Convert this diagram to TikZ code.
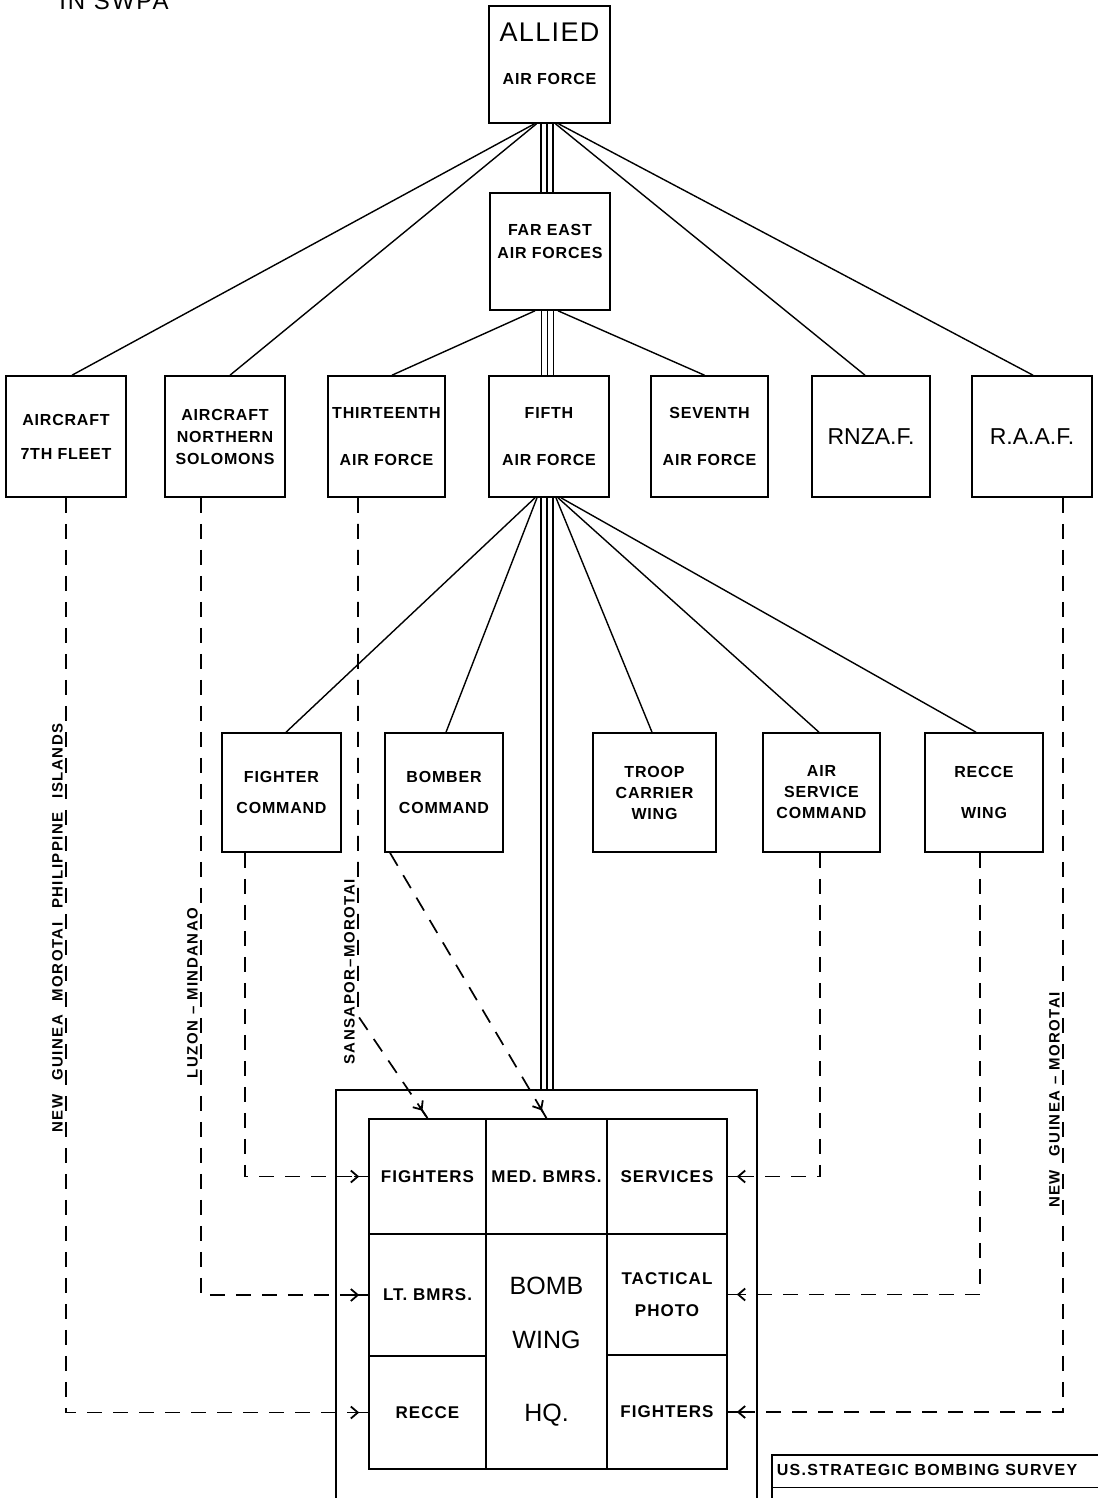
\documentclass[tikz,border=0pt]{standalone}
\usepackage{fontspec}
\setmainfont{Liberation Sans}
\newfontfamily\lblf{Liberation Sans}[LetterSpace=5]
\newfontfamily\grdf{Liberation Sans}[LetterSpace=6]
\newfontfamily\rotf{Liberation Sans}[LetterSpace=10]
\newfontfamily\ttlf{Liberation Sans}[LetterSpace=8]
\usetikzlibrary{arrows.meta,calc,decorations.markings}
\begin{document}
\begin{tikzpicture}[x=1pt,y=-1pt,
  box/.style={draw, line width=1.6pt, inner sep=0pt, align=center, minimum height=121pt,
    font={\lblf\bfseries\fontsize{16}{19}\selectfont}},
  bigbox/.style={draw, line width=1.6pt, inner sep=0pt, align=center, minimum height=121pt,
    font={\fontsize{23}{27}\selectfont}},
  cell/.style={draw, line width=1.6pt, inner sep=0pt, align=center,
    font={\grdf\bfseries\fontsize{17}{21}\selectfont}},
  conn/.style={line width=1.4pt},
  tri/.style={line width=1.1pt},
  dashconn/.style={line width=1.7pt, dash pattern=on 15pt off 11pt},
  arrowend/.style={postaction={decorate}, decoration={markings,
    mark=at position -9pt with {\draw[solid,line width=1.8pt] (-5pt,0pt) -- (9pt,0pt);
      \arrow[line width=1.8pt]{Straight Barb[length=7pt,width=12pt]}}}},
  rlab/.style={rotate=90, anchor=south, inner sep=0pt,
    font={\rotf\bfseries\fontsize{15}{18}\selectfont}}
]
\fill[white] (0,0) rectangle (1097,1498);
\useasboundingbox (0,0) rectangle (1097,1498);

% title (cut at top, as in the reference)
\node[anchor=base, inner sep=0pt, font={\ttlf\fontsize{24}{28}\selectfont}] (title) at (114,10) {IN SWPA};

% top boxes
\node[box, minimum width=121pt, minimum height=117pt] (allied) at (549.5,64.5)
  {{\fontsize{27}{31}\mdseries ALLIED}\\[24pt]AIR FORCE\rule[-21pt]{0pt}{21pt}};
\node[box, minimum width=120pt, minimum height=117pt] (feaf) at (550,251.5)
  {FAR EAST\\[4pt]AIR FORCES\rule[-20pt]{0pt}{20pt}};

% row 1
\node[box, minimum width=120pt] (f7) at (66,436.5) {AIRCRAFT\\[15pt]7TH FLEET};
\node[box, minimum width=120pt] (ns) at (225,436.5) {AIRCRAFT\\[3pt]NORTHERN\\[3pt]SOLOMONS};
\node[box, minimum width=117pt] (thirteenth) at (386.5,436.5) {THIRTEENTH\\[28pt]AIR FORCE};
\node[box, minimum width=120pt] (fifth) at (549,436.5) {FIFTH\\[28pt]AIR FORCE};
\node[box, minimum width=117pt] (seventh) at (709.5,436.5) {SEVENTH\\[28pt]AIR FORCE};
\node[bigbox, minimum width=118pt] (rnzaf) at (871,436.5) {RNZA.F.};
\node[bigbox, minimum width=120pt] (raaf) at (1032,436.5) {R.A.A.F.};

% row 2
\node[box, minimum width=119pt, minimum height=119pt] (fightercmd) at (281.5,792.5) {FIGHTER\\[12pt]COMMAND};
\node[box, minimum width=118pt, minimum height=119pt] (bomber) at (444,792.5) {BOMBER\\[12pt]COMMAND};
\node[box, minimum width=123pt, minimum height=119pt] (troop) at (654.5,792.5) {TROOP\\[2pt]CARRIER\\[2pt]WING};
\node[box, minimum width=117pt, minimum height=119pt] (airsvc) at (821.5,792.5) {AIR\\[2pt]SERVICE\\[2pt]COMMAND};
\node[box, minimum width=118pt, minimum height=119pt] (reccewing) at (984,792.5) {RECCE\\[22pt]WING};

% bomb wing
\node[draw, line width=1.6pt, minimum width=421pt, minimum height=420pt] (wing) at (546.5,1300) {};
\node[cell, minimum width=117pt, minimum height=115pt] (fighters) at (427.5,1176.5) {FIGHTERS};
\node[cell, minimum width=121pt, minimum height=115pt] (medbmrs) at (546.5,1176.5) {MED. BMRS.};
\node[cell, minimum width=120pt, minimum height=115pt] (services) at (667,1176.5) {SERVICES};
\node[cell, minimum width=117pt, minimum height=122pt] (ltbmrs) at (427.5,1295) {LT. BMRS.};
\node[cell, minimum width=117pt, minimum height=113pt] (recce) at (427.5,1412.5) {RECCE};
\node[cell, minimum width=121pt, minimum height=235pt, font={\fontsize{25}{30}\selectfont}] (hq) at (546.5,1351.5)
  {BOMB\\[24pt]WING\\[43pt]HQ.};
\node[cell, minimum width=120pt, minimum height=121pt] (tactical) at (667,1294.5) {TACTICAL\\[11pt]PHOTO};
\node[cell, minimum width=120pt, minimum height=114pt] (fighterstwo) at (667,1412) {FIGHTERS};

% survey box
\node[draw, line width=1.4pt, minimum width=343pt, minimum height=55pt] (survey) at (943.5,1482.5) {};
\node[inner sep=0pt, font={\ttlf\bfseries\fontsize{16}{19}\selectfont}] (surveytxt) at (927,1470) {US.STRATEGIC BOMBING SURVEY};
\draw[line width=1.2pt] ($(survey.north west)+(0,33)$) -- ($(survey.north east)+(0,33)$);

% triple lines
\foreach \dx in {-8.5,-2.5,3.5}{
  \draw[tri] ($(allied.south)+(\dx,0)$) coordinate (t) -- (t |- feaf.north);
  \draw[tri] ($(feaf.south)+(\dx,0)$) coordinate (t) -- (t |- fifth.north);
}
\foreach \dx in {-8,-2,4}{
  \draw[tri] ($(fifth.south)+(\dx,0)$) coordinate (t) -- (t |- wing.north);
}

% fan lines from ALLIED
\draw[conn] ($(allied.south)+(-15,0)$) -- ($(f7.north)+(6,0)$);
\draw[conn] ($(allied.south)+(-13,0)$) -- ($(ns.north)+(5,0)$);
\draw[conn] ($(allied.south)+(6,0)$) -- ($(rnzaf.north)+(-6,0)$);
\draw[conn] ($(allied.south)+(9,0)$) -- ($(raaf.north)+(1,0)$);
% fan lines from FEAF
\draw[conn] ($(feaf.south)+(-15,0)$) -- ($(thirteenth.north)+(5.5,0)$);
\draw[conn] ($(feaf.south)+(8,0)$) -- ($(seventh.north)+(-5,0)$);
% fan lines from FIFTH
\draw[conn] ($(fifth.south)+(-14,0)$) -- ($(fightercmd.north)+(4.5,0)$);
\draw[conn] ($(fifth.south)+(-12,0)$) -- ($(bomber.north)+(2,0)$);
\draw[conn] ($(fifth.south)+(7,0)$) -- ($(troop.north)+(-2.5,0)$);
\draw[conn] ($(fifth.south)+(9,0)$) -- ($(airsvc.north)+(-2.5,0)$);
\draw[conn] ($(fifth.south)+(12,0)$) -- ($(reccewing.north)+(-8,0)$);

% dashed connectors
\draw[dashconn, arrowend] (f7.south) |- (recce.west);
\draw[dashconn, arrowend] ($(ns.south)+(-24,0)$) |- (ltbmrs.west);
\coordinate (bend13) at ($(thirteenth.south)+(-28.5,518)$);
\draw[dashconn, arrowend] ($(thirteenth.south)+(-28.5,0)$) -- (bend13) -- (fighters.north);
\draw[dashconn, arrowend] ($(fightercmd.south)+(-36.5,0)$) |- (fighters.west);
\draw[dashconn, arrowend] ($(bomber.south)+(-54,0)$) -- (medbmrs.north);
\draw[dashconn, arrowend] ($(airsvc.south)+(-1.5,0)$) |- (services.east);
\draw[dashconn, arrowend] ($(reccewing.south)+(-4,0)$) |- (tactical.east);
\draw[dashconn, arrowend] ($(raaf.south)+(31,0)$) |- (fighterstwo.east);

% rotated labels
\node[rlab] (lab1) at (63,928) {NEW\hspace{8pt} GUINEA\hspace{8pt} MOROTAI\hspace{8pt} PHILIPPINE\hspace{8pt} ISLANDS};
\node[rlab] (lab2) at (198,993) {LUZON – MINDANAO};
\node[rlab] (lab3) at (355,972) {SANSAPOR–MOROTAI};
\node[rlab] (lab4) at (1060,1100) {NEW\hspace{8pt} GUINEA – MOROTAI};
\end{tikzpicture}
\end{document}
